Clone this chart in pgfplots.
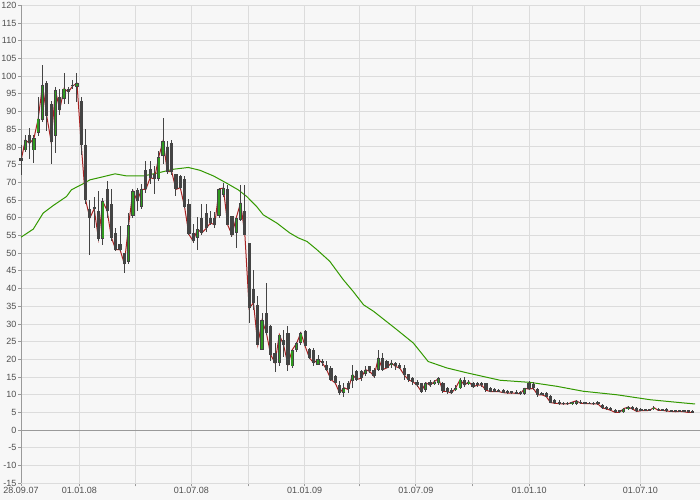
\documentclass[border=0pt]{standalone}
\usepackage{fontspec}
\setmainfont{Liberation Sans}
\usepackage{pgfplots}
\usepackage{pgfplotstable}
\pgfplotsset{compat=1.18}
\definecolor{bgc}{HTML}{F7F7F7}
\definecolor{gridc}{HTML}{DCDCDC}
\definecolor{axc}{HTML}{9A9A9A}
\definecolor{wickc}{HTML}{444444}
\definecolor{upc}{HTML}{2F9A1F}
\definecolor{redc}{HTML}{A82222}
\definecolor{mac}{HTML}{339900}
\definecolor{labc}{HTML}{505050}

\pgfplotstableread{
k o h l c
0 77 80.5 72 76
1 79 83.5 78.5 82
2 83.5 85.3 76.5 81
3 79 83.5 75.4 82.4
4 84 94 83 88
5 87.5 103 87 97.5
6 98 98.5 84.5 88.6
7 92 93 75.3 81.5
8 83 97 78.4 96
9 94 96.5 89 90.5
10 93.5 101 92 96.5
11 96.5 97 92 95.5
12 97.5 99 96.5 97.2
13 97 100.8 92.7 98
14 93 94 77.6 80.5
15 80.5 85 64 65
16 62.5 65 49.6 60
17 63 66 57 62.5
18 62 67.5 53.3 54
19 54 65.6 52.4 64.6
20 68 70.3 60 62
21 64 68 53.4 54.4
22 55.8 57.2 50.6 51
23 52.5 57.6 50.5 51
24 50 50.1 44.5 47
25 47.5 61.4 47 58
26 60.5 68 60 67.6
27 67.7 68.5 61.9 64.7
28 63 69.4 62.4 68
29 73.4 76 67.1 68
30 73.7 76 69.4 71.3
31 72.3 74.6 66.6 71
32 71 78.9 70.4 77.2
33 77.5 88.3 75.1 81.7
34 80 81.7 72.3 73
35 81 82 72 73
36 72.3 72.3 66 68
37 71.8 72 68 68.5
38 71 71.8 62.8 63
39 64 65.2 55 55.3
40 55.8 58.1 52.9 53.4
41 54.4 60.2 50.8 56.8
42 60 64 55.2 55.7
43 61.3 64 56 57
44 60 62 58 58.5
45 60 61.5 57 58
46 60.4 68.4 59.9 68.1
47 66.5 69.8 66 68.4
48 68 69.3 58 58
49 60.4 60.4 54.7 55.2
50 55.7 60 51.4 60
51 59.4 69.3 59 64.2
52 62 69.3 55 55.2
53 52.8 52.8 30.2 34.4
54 40 45.3 34 36
55 35.4 37.8 24 24.1
56 22.7 33 22.7 31.1
57 33 41.5 27 27.4
58 29.3 29.7 19.4 21.3
59 21.7 24.5 16.5 19
60 19 27 18 27
61 25.5 28.3 20.8 24
62 27.4 29.3 16.6 18.5
63 18 22.7 17.5 22.7
64 22.7 25 22 24.5
65 24.6 27.6 24.2 27.5
66 28 28.4 23.7 23.7
67 23 23.2 20 20.4
68 22.7 23.2 18 19
69 18.5 21.3 18.5 20
70 19.4 20 18 19
71 18.5 19.4 16.6 17.1
72 17.6 18 13.8 14.3
73 15.2 15.7 13.3 13.3
74 12.8 13.8 10 10.5
75 10.5 13.3 9.5 12
76 13.3 13.8 10.5 11.5
77 13.8 18.5 11.9 15.7
78 16.6 17.1 13.8 14.3
79 16.6 17.1 13.8 14.7
80 16 18.2 15.2 17.1
81 18 18.2 16.1 16.6
82 17.1 17.6 14.7 15.2
83 17.1 22.7 16.6 20.4
84 20.4 21.8 16.6 17.1
85 19.4 19.9 17.6 17.6
86 18.5 19.9 17.5 19
87 18.9 19.3 17 18
88 18.4 18.9 17.2 17.5
89 17.5 18.4 14.2 15.6
90 16 16 13.7 14.2
91 14.6 15.1 12.7 13.7
92 13.7 14.2 12.3 12.7
93 13.2 13.2 10.4 10.9
94 11.3 13.7 10.9 13.4
95 13.7 14.2 12.3 12.7
96 13.2 14.2 12.7 13.7
97 13.2 15.1 12.7 14.6
98 13.2 13.7 10.5 11
99 11.8 12.3 10.2 10.9
100 11.3 11.8 10.2 10.5
101 11.3 12.7 11 12
102 11.8 14.6 11.5 14.3
103 14.2 15.1 12.3 12.7
104 13.2 14.2 12.7 13.7
105 13.4 13.7 11.8 12.3
106 13.4 13.7 12.2 12.7
107 13.2 13.7 12.2 12.7
108 13.2 13.4 10.9 11.3
109 11.8 12.3 10.7 10.9
110 11.5 11.8 10.7 10.9
111 11.3 11.5 10.7 10.9
112 11.3 11.5 10.4 10.6
113 11 11.3 10.2 10.5
114 11 11.2 10.3 10.5
115 10.8 11.3 10.2 10.4
116 10.7 11 10 10.3
117 10.3 11.9 10 11.8
118 13.3 13.8 11.3 11.6
119 13 13.6 11.3 11.8
120 11.6 11.9 9.5 10
121 10.5 10.8 9.8 10
122 10.5 10.7 9.3 9.5
123 9.7 10 7.6 7.8
124 8.4 8.7 7.3 7.6
125 8.1 8.4 7.2 7.5
126 7.8 8.1 7 7.4
127 7.8 8 7.1 7.4
128 7.4 8.1 7.2 7.9
129 7.5 8.6 7.2 8.3
130 8.1 8.4 7.3 7.6
131 7.9 8.1 7.4 7.5
132 7.8 8 7.4 7.5
133 7.8 8 7.2 7.4
134 8.1 8.3 7.1 7.4
135 7.2 7.5 6 6.3
136 6.5 6.8 5.8 6
137 6.2 6.5 5.3 5.6
138 5.8 6.1 4.8 5
139 5.6 5.8 4.8 5
140 5 6.4 4.8 6.1
141 6 6.8 5.8 6.5
142 6.5 6.8 5.8 6
143 6.2 6.5 5 5.3
144 5.9 6.2 5.3 5.5
145 5.9 6.1 5.4 5.5
146 5.9 6.1 5.5 5.6
147 5.9 6.7 5.6 6.4
148 6.1 6.3 5.4 5.6
149 5.9 6.1 5.4 5.6
150 5.9 6.2 5.1 5.4
151 5.6 5.8 5.2 5.3
152 5.6 5.8 5.1 5.2
153 5.6 5.7 5.1 5.3
154 5.6 5.8 5.1 5.2
155 5.6 5.8 4.9 5
156 5.4 5.6 4.8 5
}\candles

\pgfplotstableread{
d v
0 54.5
20 56.8
36 61.3
52 63.4
74 66
82 67.9
101 69.6
112 70.7
134 71.6
153 72.4
172 71.8
199 71.8
221 72.6
248 73.7
272 74.2
291 73.4
313 71.8
334 69.8
353 67.9
367 66
383 63.2
394 60.8
416 58.5
437 55.7
451 54.3
465 53.3
481 51
502 47.7
524 42.5
540 39.2
557 35.4
573 33.6
584 32.1
611 28.4
638 24.6
662 19.4
692 17.6
725 16.2
779 14.1
828 13.5
871 12.4
914 11.0
969 10.0
1023 8.6
1077 7.7
1096 7.4
}\ma

\begin{document}
\begin{tikzpicture}
\fill[bgc] (-21bp,-16.7bp) rectangle (679bp,483.3bp);
\begin{axis}[
  at={(0,0)}, anchor=south west,
  scale only axis, width=679bp, height=478bp,
  xmin=0, xmax=1104, ymin=-15, ymax=120,
  axis x line*=bottom, axis y line*=left,
  axis line style={-},
  x axis line style={draw=gridc},
  y axis line style={draw=axc, line width=0.8bp},
  tick align=outside, major tick length=3bp,
  tick style={draw=axc, line width=0.8bp},
  grid=major, grid style={draw=gridc, line width=0.9bp},
  ytick={-15,-10,...,120},
  yticklabels={-15,-10,-5,0,5,10,15,20,25,30,35,40,45,50,55,60,65,70,75,80,85,90,95,100,105,110,115,120},
  xtick={0,95,186,277,369,461,551,642,734,826,916,1007},
  xticklabels={28.09.07,01.01.08,,01.07.08,,01.01.09,,01.07.09,,01.01.10,,01.07.10},
  ticklabel style={font=\fontsize{9bp}{10bp}\selectfont, text=labc},
  yticklabel style={inner sep=1.5bp},
  xticklabel style={inner sep=1bp},
  extra y ticks={0}, extra y tick labels={},
  extra y tick style={grid style={draw=axc, line width=1.3bp}, tick style={draw=none}},
  clip=false,
]
% moving average
\addplot[mac, line width=1bp] table[x=d, y=v]{\ma};
% close line
\addplot[redc, line width=1bp] table[x expr=7*\thisrow{k}, y=c]{\candles};
% wicks
\addplot[draw=none, error bars/.cd, y dir=both, y explicit, error mark=none,
  error bar style={draw=wickc, line width=1bp}]
  table[x expr=7*\thisrow{k}, y expr=(\thisrow{h}+\thisrow{l})/2,
        y error expr=(\thisrow{h}-\thisrow{l})/2]{\candles};
% bodies
\addplot[draw=none, error bars/.cd, y dir=both, y explicit, error mark=none,
  error bar style={draw=wickc, line width=3.2bp}]
  table[x expr=7*\thisrow{k}, y expr=(\thisrow{o}+\thisrow{c})/2,
        y error expr={max(abs(\thisrow{c}-\thisrow{o})/2,0.15)}]{\candles};
% up bodies
\addplot[draw=none, restrict expr to domain={\thisrow{c}-\thisrow{o}}{0.01:1000},
  error bars/.cd, y dir=both, y explicit, error mark=none,
  error bar style={draw=upc, line width=1.5bp}]
  table[x expr=7*\thisrow{k}, y expr=(\thisrow{o}+\thisrow{c})/2,
        y error expr={max(abs(\thisrow{c}-\thisrow{o})/2-0.25,0.05)}]{\candles};
\end{axis}
\pgfresetboundingbox
\path[use as bounding box] (-21bp,-16.7bp) rectangle (679bp,483.3bp);
\end{tikzpicture}
\end{document}
